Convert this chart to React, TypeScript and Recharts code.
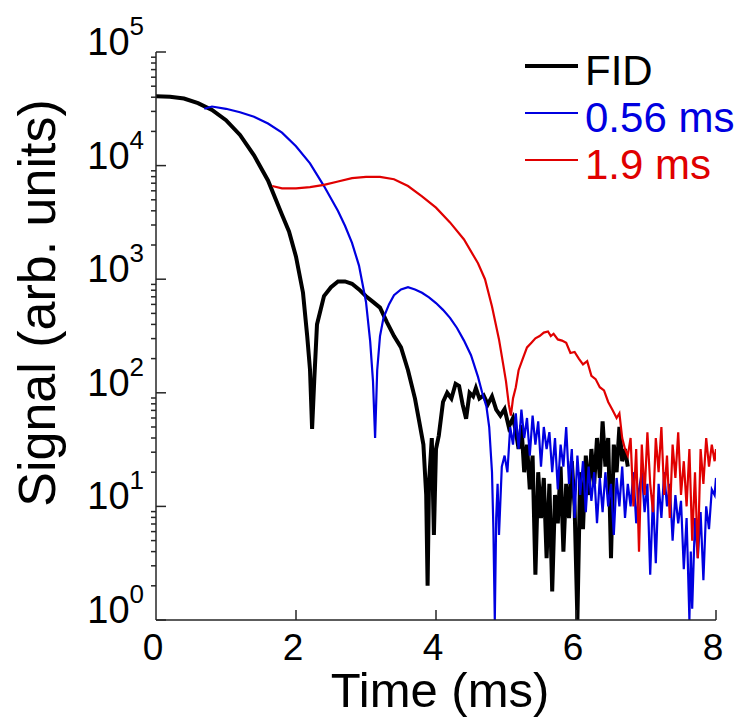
import { LineChart, Line, XAxis, YAxis, Label } from 'recharts'

// FID (black)
const fidTime = [
  0, 0.2, 0.4, 0.6, 0.8, 1.0, 1.2, 1.4, 1.6, 1.8, 1.9, 2.0, 2.1, 2.16, 2.2, 2.23, 2.26, 2.3, 2.4, 2.5,
  2.6, 2.7, 2.8, 2.9, 3.0, 3.1, 3.2, 3.3, 3.4, 3.5, 3.6, 3.7, 3.76, 3.82, 3.86, 3.88, 3.9, 3.94, 3.97, 4.0,
  4.04, 4.1, 4.16, 4.22, 4.28, 4.33, 4.38, 4.43, 4.48, 4.53, 4.57, 4.62, 4.68, 4.74, 4.8, 4.86, 4.92, 4.98, 5.04, 5.1,
  5.14, 5.18, 5.22, 5.26, 5.3, 5.34, 5.38, 5.42, 5.46, 5.5, 5.54, 5.58, 5.62, 5.66, 5.7, 5.74, 5.78, 5.82, 5.86, 5.9,
  5.94, 5.98, 6.02, 6.06, 6.1, 6.14, 6.18, 6.22, 6.26, 6.3, 6.34, 6.38, 6.42, 6.46, 6.5, 6.54, 6.58, 6.62, 6.66, 6.7, 6.74,
]
const fidSignal = [
  40700, 40300, 38900, 35500, 30900, 25100, 18600, 12300, 7400, 3700, 2630, 1580, 760, 316, 160, 48, 126, 400, 710, 850,
  955, 955, 912, 813, 708, 631, 562, 417, 316, 251, 158, 89, 56, 35, 12.6, 2, 16, 40, 5.6, 32,
  42, 83, 100, 89, 120, 115, 79, 59, 100, 93, 110, 89, 95, 79, 93, 71, 63, 72, 50, 60,
  46, 32, 52, 20, 35, 14.1, 28, 2.5, 20, 7.9, 17.8, 3.5, 15.8, 1.78, 12.6, 7.1, 22.4, 4, 15.8, 7.9,
  25, 10, 1, 20, 6.3, 28, 12.6, 32, 15.8, 40, 17.8, 56, 22.4, 40, 3.5, 35, 20, 50, 25, 32, 22.4,
]

// 0.56 ms (blue)
const blueTime = [
  0.69, 0.8, 1.0, 1.2, 1.4, 1.6, 1.8, 2.0, 2.2, 2.4, 2.6, 2.7, 2.8, 2.9, 3.0, 3.06, 3.1, 3.13, 3.16, 3.2,
  3.25, 3.33, 3.4, 3.5, 3.6, 3.7, 3.8, 3.9, 4.0, 4.1, 4.2, 4.3, 4.4, 4.5, 4.6, 4.66, 4.72, 4.76, 4.8, 4.82,
  4.84, 4.86, 4.88, 4.9, 4.94, 4.98, 5.02, 5.06, 5.1, 5.14, 5.18, 5.22, 5.26, 5.3, 5.34, 5.38, 5.42, 5.46, 5.5, 5.54,
  5.58, 5.62, 5.66, 5.7, 5.74, 5.78, 5.82, 5.86, 5.9, 5.94, 5.98, 6.02, 6.06, 6.1, 6.14, 6.18, 6.22, 6.26, 6.3, 6.34,
  6.38, 6.42, 6.46, 6.5, 6.54, 6.58, 6.62, 6.66, 6.7, 6.74, 6.78, 6.82, 6.86, 6.9, 6.94, 6.98, 7.02, 7.06, 7.1, 7.14,
  7.18, 7.22, 7.26, 7.3, 7.34, 7.38, 7.42, 7.46, 7.5, 7.54, 7.58, 7.62, 7.64, 7.66, 7.7, 7.74, 7.78, 7.82, 7.86, 7.9,
  7.94, 7.98, 8.0,
]
const blueSignal = [
  31623, 33113, 31623, 29512, 26915, 23442, 19498, 14791, 10471, 6607, 3981, 2951, 2089, 1318, 631, 282, 126, 40, 158, 316,
  457, 603, 724, 813, 851, 813, 759, 692, 617, 537, 457, 372, 288, 214, 138, 100, 76, 50, 20, 6.3,
  1, 7.9, 15.8, 5.6, 22.4, 28, 20, 50, 35, 66, 32, 71, 40, 60, 28, 63, 35, 56, 22.4, 50,
  32, 45, 20, 40, 14.1, 35, 22.4, 50, 15.8, 32, 7.9, 28, 12.6, 25, 8.9, 22.4, 11.2, 20, 7.1, 17.8,
  8.9, 20, 10, 15.8, 5.6, 17.8, 10, 22.4, 7.9, 15.8, 10, 20, 7.1, 14.1, 20, 8.9, 15.8, 2.5, 12.6, 3.16,
  15.8, 7.9, 20, 10, 15.8, 5, 12.6, 7.1, 11.2, 2.8, 7.9, 1, 4, 1.26, 7.9, 3.5, 8.9, 2.24, 10, 6.3,
  14.1, 12.6, 17.8,
]

// 1.9 ms (red)
const redTime = [
  1.66, 1.8, 2.0, 2.2, 2.4, 2.6, 2.8, 3.0, 3.2, 3.4, 3.6, 3.8, 4.0, 4.2, 4.4, 4.6, 4.7, 4.8, 4.9, 4.96,
  5.0, 5.04, 5.07, 5.1, 5.14, 5.18, 5.24, 5.3, 5.36, 5.42, 5.48, 5.54, 5.6, 5.64, 5.68, 5.74, 5.8, 5.86, 5.92, 5.98,
  6.04, 6.1, 6.16, 6.22, 6.28, 6.34, 6.4, 6.46, 6.52, 6.58, 6.62, 6.66, 6.7, 6.74, 6.78, 6.82, 6.86, 6.9, 6.94, 6.98,
  7.02, 7.06, 7.1, 7.14, 7.18, 7.22, 7.26, 7.3, 7.34, 7.38, 7.42, 7.46, 7.5, 7.54, 7.58, 7.62, 7.66, 7.7, 7.74, 7.78,
  7.82, 7.86, 7.9, 7.94, 7.98, 8.0,
]
const redSignal = [
  6607, 6310, 6310, 6457, 6761, 7244, 7762, 7943, 7943, 7586, 6607, 5370, 4266, 3162, 2239, 1380, 1000, 575, 295, 178,
  126, 79, 63, 89, 112, 158, 200, 251, 275, 302, 316, 339, 347, 316, 331, 295, 288, 275, 224, 229,
  200, 178, 190, 141, 132, 112, 105, 83, 71, 60, 66, 40, 32, 28, 40, 10, 32, 4, 35, 12.6,
  45, 15.8, 8.9, 40, 20, 50, 12.6, 28, 7.9, 35, 17.8, 45, 12.6, 25, 10, 32, 5, 20, 3.5, 32,
  15.8, 40, 22.4, 35, 25, 32,
]

const fidData = fidTime.map((t, i) => ({ t, v: fidSignal[i] }))
const blueData = blueTime.map((t, i) => ({ t, v: blueSignal[i] }))
const redData = redTime.map((t, i) => ({ t, v: redSignal[i] }))

const xTicks = [0, 2, 4, 6, 8]
const yTicks = [
  1, 2, 3, 4, 5, 6, 7, 8, 9,
  10, 20, 30, 40, 50, 60, 70, 80, 90,
  100, 200, 300, 400, 500, 600, 700, 800, 900,
  1000, 2000, 3000, 4000, 5000, 6000, 7000, 8000, 9000,
  10000, 20000, 30000, 40000, 50000, 60000, 70000, 80000, 90000,
  100000,
]

const legendItems = [
  { name: 'FID', color: '#000000', width: 4 },
  { name: '0.56 ms', color: '#0000e0', width: 2 },
  { name: '1.9 ms', color: '#e00000', width: 2 },
]

const FONT = '"Liberation Sans", Arial, Helvetica, sans-serif'
const AXIS = '#262626'

function XTick({ x, y, payload }: any) {
  return (
    <g>
      {payload.value > 0 && <line x1={x} x2={x} y1={y} y2={y - 10} stroke={AXIS} strokeWidth={1.5} />}
      <text x={x - 3} y={y + 40} textAnchor="middle" fontSize={37} fontFamily={FONT} fill="#000">
        {payload.value}
      </text>
    </g>
  )
}

function YTick({ x, y, payload }: any) {
  const exp = Math.log10(payload.value)
  const major = Math.abs(exp - Math.round(exp)) < 1e-6
  if (!major) {
    return <line x1={x - 5} x2={x} y1={y} y2={y} stroke={AXIS} strokeWidth={1.5} />
  }
  return (
    <g>
      <line x1={x} x2={x + 10} y1={y} y2={y} stroke={AXIS} strokeWidth={1.5} />
      <text x={x - 12} y={y + 3} textAnchor="end" fontSize={38} fontFamily={FONT} fill="#000">
        10
        <tspan dy={-20} fontSize={26}>
          {Math.round(exp)}
        </tspan>
      </text>
    </g>
  )
}

export default function App() {
  return (
    <div style={{ position: 'absolute', left: 0, top: 0, width: 748, height: 719, background: '#fff' }}>
      <LineChart width={748} height={719} margin={{ top: 52, right: 32, left: 0, bottom: 0 }}>
        <XAxis
          type="number"
          dataKey="t"
          domain={[0, 8]}
          ticks={xTicks}
          height={99}
          tickSize={0}
          tickMargin={0}
          tickLine={false}
          axisLine={{ stroke: AXIS, strokeWidth: 1.5 }}
          tick={<XTick />}
          allowDataOverflow
        >
          <Label
            content={() => (
              <text x={440} y={707} textAnchor="middle" fontSize={49} fontFamily={FONT} fill="#000">
                Time (ms)
              </text>
            )}
          />
        </XAxis>
        <YAxis
          type="number"
          dataKey="v"
          scale="log"
          domain={[1, 100000]}
          ticks={yTicks}
          interval={0}
          width={156}
          tickSize={0}
          tickMargin={0}
          tickLine={false}
          axisLine={{ stroke: AXIS, strokeWidth: 1.5 }}
          tick={<YTick />}
          allowDataOverflow
        >
          <Label
            content={() => (
              <text
                x={55}
                y={303}
                textAnchor="middle"
                fontSize={52}
                fontFamily={FONT}
                fill="#000"
                transform="rotate(-90, 55, 303)"
              >
                Signal (arb. units)
              </text>
            )}
          />
        </YAxis>
        <Line data={fidData} dataKey="v" stroke="#000000" strokeWidth={4} dot={false} isAnimationActive={false} />
        <Line data={blueData} dataKey="v" stroke="#0000e0" strokeWidth={2.2} dot={false} isAnimationActive={false} />
        <Line data={redData} dataKey="v" stroke="#e00000" strokeWidth={2.2} dot={false} isAnimationActive={false} />
      </LineChart>
      <div style={{ position: 'absolute', left: 525, top: 47, fontFamily: FONT, fontSize: 42 }}>
        {legendItems.map((it) => (
          <div key={it.name} style={{ position: 'relative', height: 47, lineHeight: '47px', paddingLeft: 60, color: it.color, whiteSpace: 'nowrap' }}>
            <div style={{ position: 'absolute', left: 0, top: 19 - it.width / 2, width: 53, height: it.width, background: it.color }} />
            {it.name}
          </div>
        ))}
      </div>
    </div>
  )
}
